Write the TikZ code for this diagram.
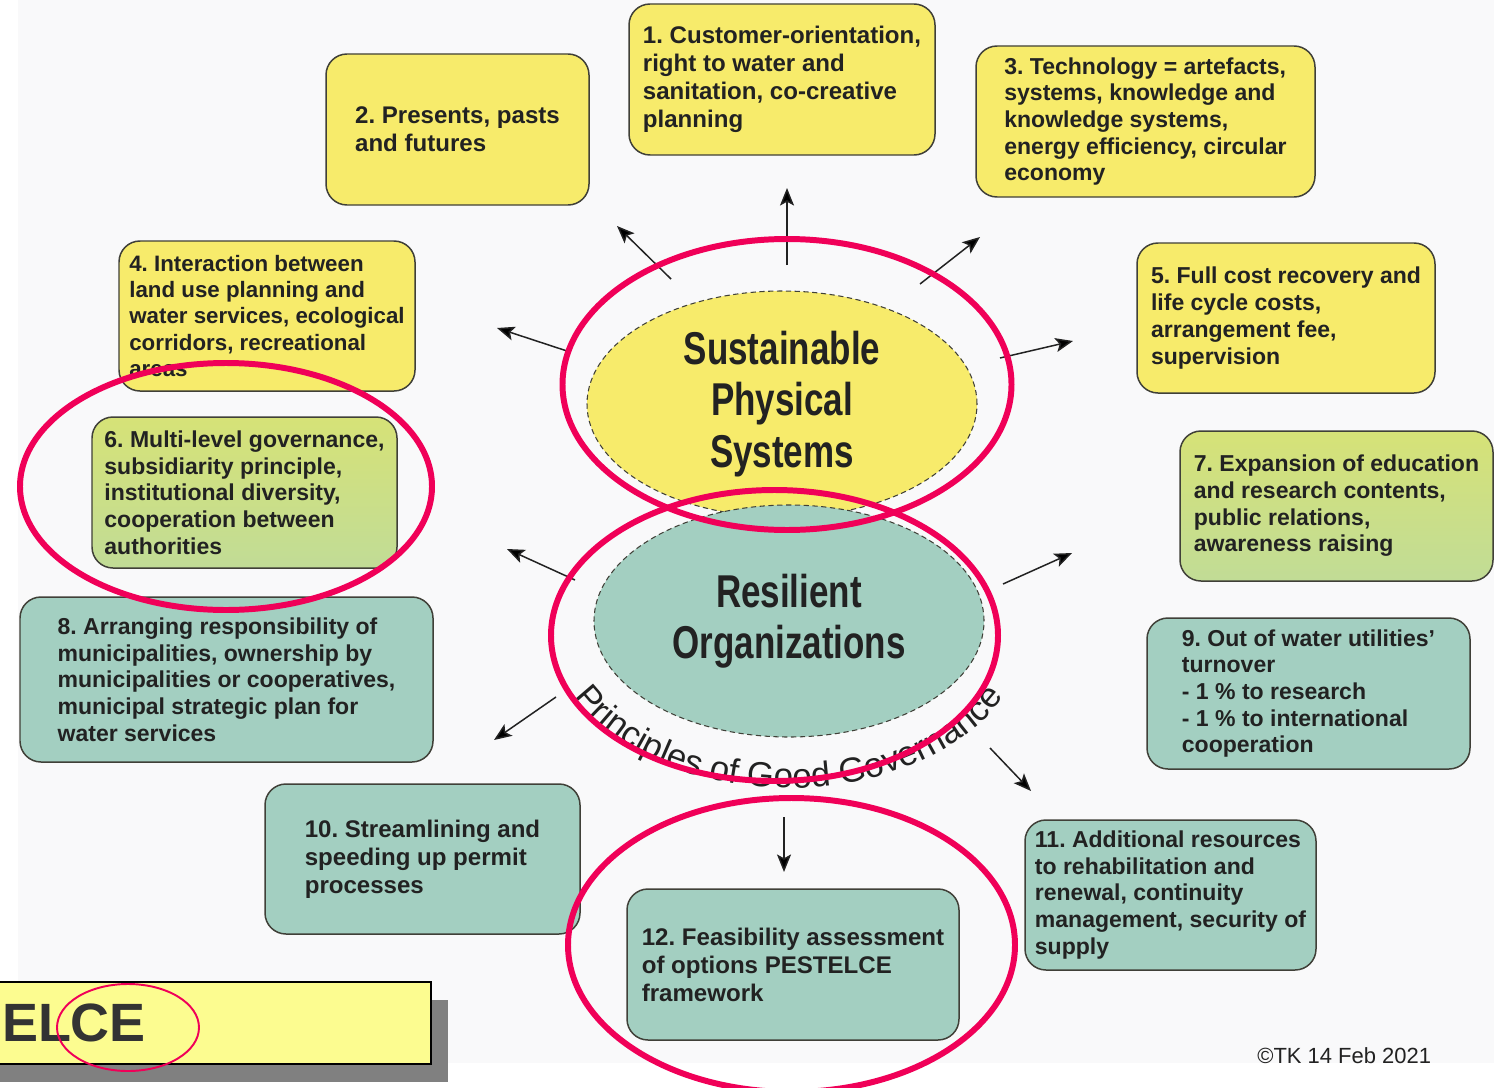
\documentclass[tikz,border=0pt]{standalone}
\usepackage{fontspec}
\setmainfont{Liberation Sans}
\newfontfamily\condfont[FakeStretch=0.76]{Liberation Sans}
\usetikzlibrary{arrows.meta,shapes.geometric,decorations.text,shadows}
\usepackage{xcolor}
\definecolor{boxyellow}{RGB}{247,235,107}
\definecolor{boxteal}{RGB}{163,207,193}
\definecolor{greentop}{RGB}{214,226,119}
\definecolor{greenbot}{RGB}{193,220,150}
\definecolor{ringpink}{RGB}{240,0,88}
\definecolor{inkgray}{RGB}{34,34,34}
\definecolor{edgegray}{RGB}{64,64,56}
\definecolor{paleyellow}{RGB}{252,252,144}
\definecolor{shadowgray}{RGB}{128,128,128}
\definecolor{paper}{RGB}{249,249,250}
\newlength{\pxu}
\setlength{\pxu}{0.02cm}
\newcommand{\govfont}{\fontsize{19.8}{20}\selectfont}
\tikzset{wh/.style 2 args={minimum width=#1\pxu, minimum height=#2\pxu}}
\frenchspacing

\begin{document}
\begin{tikzpicture}[x=0.02cm, y=-0.02cm, >={Stealth[length=10pt,width=8pt,inset=2.2pt]}, text=inkgray]
  \tikzstyle{card}=[draw=edgegray, line width=0.85pt, rounded corners=0.42cm, inner sep=2pt, align=left, font=\bfseries\fontsize{13.1}{15.2}\selectfont]
  \tikzstyle{bigtext}=[font=\bfseries\fontsize{13.7}{15.9}\selectfont]
  \tikzstyle{greenish}=[top color=greentop, bottom color=greenbot]
  \tikzstyle{blob}=[ellipse, draw=edgegray, line width=0.6pt, dash pattern=on 3pt off 2pt, align=center, font=\condfont\bfseries\fontsize{26.2}{29.2}\selectfont]
  \tikzstyle{ring}=[ellipse, draw=ringpink, line width=3.4pt, inner sep=0pt]
  \tikzstyle{ray}=[->, draw=inkgray, line width=0.85pt]

  \useasboundingbox (0,0) rectangle (1494,1088);
  \clip (0,0) rectangle (1494,1088);
  \fill[white] (0,0) rectangle (1494,1088);
  \fill[paper] (18,0) rectangle (1494,1063);

  \node[card, fill=boxyellow, bigtext, wh={306}{151}] (B1) at (782,79.5) {1. Customer-orientation,\\right to water and\\sanitation, co-creative\\planning};
  \node[card, fill=boxyellow, bigtext, wh={263}{151}] (B2) at (457.5,129.5) {2. Presents, pasts\\and futures};
  \node[card, fill=boxyellow, wh={339}{151}] (B3) at (1145.5,121.5) {3. Technology = artefacts,\\systems, knowledge and\\knowledge systems,\\energy efficiency, circular\\economy};
  \node[card, fill=boxyellow, wh={296}{150}, font=\bfseries\fontsize{12.7}{14.9}\selectfont] (B4) at (267,316) {4. Interaction between\\land use planning and\\water services, ecological\\corridors, recreational\\areas};
  \node[card, fill=boxyellow, wh={298}{150}] (B5) at (1286,318) {5. Full cost recovery and\\life cycle costs,\\arrangement fee,\\supervision};
  \node[card, greenish, wh={305}{151}] (B6) at (244.5,492.5) {6. Multi-level governance,\\subsidiarity principle,\\institutional diversity,\\cooperation between\\authorities};
  \node[card, greenish, wh={313}{150}] (B7) at (1336.5,506) {7. Expansion of education\\and research contents,\\public relations,\\awareness raising};
  \node[card, fill=boxteal, wh={413}{165}] (B8) at (226.5,679.5) {8. Arranging responsibility of\\municipalities, ownership by\\municipalities or cooperatives,\\municipal strategic plan for\\water services};
  \node[card, fill=boxteal, wh={323}{151}] (B9) at (1308.5,693.5) {9. Out of water utilities’\\turnover\\- 1 \% to research\\- 1 \% to international\\cooperation};
  \node[card, fill=boxteal, bigtext, wh={315}{150}] (B10) at (422.5,859) {10. Streamlining and\\speeding up permit\\processes};
  \node[card, fill=boxteal, wh={291}{150}] (B11) at (1170.5,895) {11. Additional resources\\to rehabilitation and\\renewal, continuity\\management, security of\\supply};
  \node[card, fill=boxteal, bigtext, wh={332}{151}] (B12) at (793,964.5) {12. Feasibility assessment\\of options PESTELCE\\framework};

  \node[blob, fill=boxyellow, wh={390}{226}] (S) at (782,404) {Sustainable\\Physical\\Systems};
  \node[blob, fill=boxteal, wh={390}{232}] (R) at (789,621) {Resilient\\Organizations};

  \path[decorate, decoration={text along path, text align=center, text color=inkgray, text={|\govfont|Principles of Good Governance}}]
    ({789+242*cos(170)},{620+168*sin(170)}) arc[start angle=170, end angle=10, x radius=242, y radius=168];

  \foreach \n/\ax/\ay/\bx/\by in {n/787/265/787/188, nw/671/279/617/226, ne/920/284/980/237, w/567/351/497/328, e/1000/358/1073/341, sw/575/580/507/549, se/1003/584/1072/553, ssw/556/697/494/740, sse/990/748/1031/791, s/784/817/784/872}{
    \coordinate (\n0) at (\ax,\ay);
    \coordinate (\n1) at (\bx,\by);
    \draw[ray] (\n0) -- (\n1);
  }

  \node[draw=black, line width=1.1pt, fill=paleyellow, text width=406\pxu, inner xsep=23\pxu, minimum height=82\pxu, anchor=east, align=left,
        font=\bfseries\fontsize{30.7}{32}\selectfont, text={rgb,255:red,51;green,51;blue,51},
        drop shadow={shadow xshift=0.34cm, shadow yshift=-0.36cm, fill=shadowgray, opacity=1}] (E) at (432,1023) {ELCE};
  \node[anchor=base west, inner sep=0pt, font=\fontsize{12.5}{14}\selectfont] (K) at (1257,1063) {©TK 14 Feb 2021};

  \node[ring, wh={449}{291}] (P1) at (787,384.5) {};
  \node[ring, wh={447}{291}] (P2) at (774.5,635.5) {};
  \node[ring, wh={447}{294}] (P3) at (791.5,945) {};
  \node[ring, wh={412}{247}] (P4) at (226,486.5) {};
  \node[ellipse, draw=ringpink, line width=1.1pt, inner sep=0pt, wh={142}{87}] (P5) at (128,1027.5) {};
\end{tikzpicture}
\end{document}
